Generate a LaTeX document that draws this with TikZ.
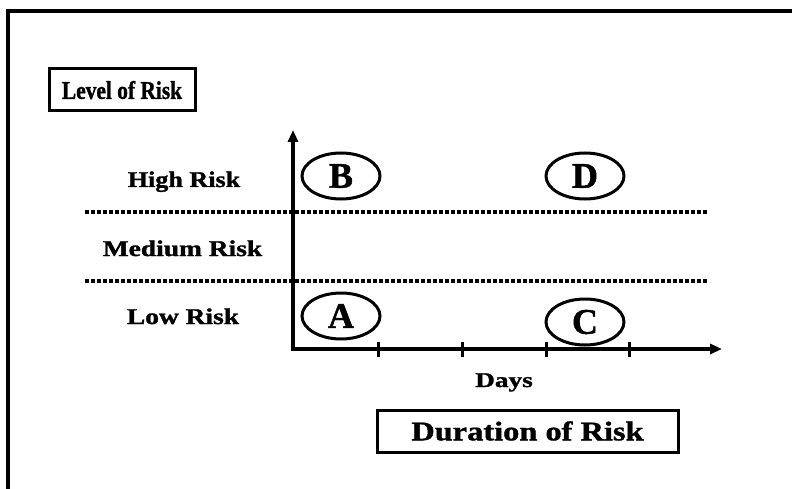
\documentclass[tikz,border=0pt]{standalone}
\usepackage{fontspec}
\setmainfont{Liberation Serif}[BoldFeatures={FakeBold=1.2}]
\usetikzlibrary{shapes.geometric,arrows.meta}
\newcommand{\sx}[2]{\scalebox{#1}[1]{#2}}
\tikzset{
  frameline/.style={line width=4.5pt},
  labelbox/.style={draw,line width=3pt,inner sep=0pt,font=\bfseries},
  risklabel/.style={font=\bfseries\fontsize{22.5}{26}\selectfont,anchor=base},
  oval/.style={draw,ellipse,line width=3pt,minimum width=78pt,minimum height=46pt,inner sep=0pt,font=\bfseries\fontsize{36}{40}\selectfont},
  axisline/.style={line width=3.4pt,-{Triangle[length=12pt,width=10pt]}},
  tickline/.style={line width=3pt},
  dotline/.style={line width=3.6pt,dash pattern=on 3.8pt off 2.2pt}
}
\begin{document}
\begin{tikzpicture}[x=1pt,y=-1pt]
\useasboundingbox (0,0) rectangle (792,489);
% frame
\coordinate (ftl) at (8,11);
\coordinate (ftr) at (792,11);
\coordinate (fbl) at (8,489);
\draw[frameline] (ftr) -- (ftl) -- (fbl);
% title boxes
\node[labelbox,minimum width=146pt,minimum height=42pt] (lvl) at (122,90)
  {\fontsize{25.5}{30}\selectfont\sx{0.84}{Level of Risk}};
\node[labelbox,minimum width=301pt,minimum height=42pt] (dur) at (527.5,431)
  {\fontsize{27}{30}\selectfont\sx{1.2}{Duration of Risk}};
% risk labels
\node[risklabel] (hi) at (184,187) {\sx{1.16}{High Risk}};
\node[risklabel] (med) at (182.5,256) {\sx{1.22}{Medium Risk}};
\node[risklabel] (lo) at (183,324) {\sx{1.22}{Low Risk}};
\node[font=\bfseries\fontsize{21}{24}\selectfont,anchor=base] (days) at (504,387) {\sx{1.3}{Days}};
% dotted separators
\coordinate (d1l) at (85,212); \coordinate (d1r) at (707,212);
\coordinate (d2l) at (85,281); \coordinate (d2r) at (707,281);
\draw[dotline] (d1l) -- (d1r);
\draw[dotline] (d2l) -- (d2r);
% axes
\coordinate (O) at (293,349);
\coordinate (ytop) at (293,130);
\coordinate (xend) at (722,349);
\draw[axisline] ([yshift=1.7pt]O) -- (ytop);
\draw[axisline] ([xshift=-1.7pt]O) -- (xend);
% ticks
\foreach \x [count=\i] in {378,462,546,629}{
  \coordinate (t\i a) at (\x,342);
  \coordinate (t\i b) at (\x,357);
  \draw[tickline] (t\i a) -- (t\i b);
}
% ovals
\node[oval] (B) at (341,176) {B};
\node[oval] (D) at (585,176) {D};
\node[oval] (A) at (341,316) {A};
\node[oval] (C) at (585,322) {C};
\end{tikzpicture}
\end{document}
